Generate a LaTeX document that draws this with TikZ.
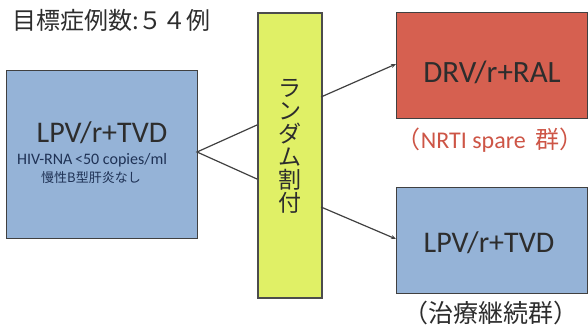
\documentclass[tikz,border=0pt]{standalone}
\usepackage{fontspec}
\setmainfont{Carlito}
\newfontfamily\jp{Noto Sans CJK JP}
\usetikzlibrary{arrows.meta}
\definecolor{boxblue}{RGB}{149,179,215}
\definecolor{boxred}{RGB}{214,96,80}
\definecolor{boxyellow}{RGB}{224,240,102}
\definecolor{txt}{RGB}{45,45,45}
\definecolor{navy}{RGB}{31,50,85}
\definecolor{lblred}{RGB}{205,85,70}
\begin{document}
\begin{tikzpicture}[x=1pt,y=-1pt,
  box/.style={draw=black!75, line width=1.3pt, anchor=north west, inner sep=0pt},
  conn/.style={draw=black!75, line width=1.2pt},
  arr/.style={conn,-{Stealth[length=5pt,width=4pt]}},
  big/.style={font=\fontsize{30}{34}\selectfont, text=txt, inner sep=0pt}]
\useasboundingbox (0,0) rectangle (588,329);
% title
\node[anchor=west, font=\jp\fontsize{24}{26}\selectfont, text=txt, inner sep=0pt] (title) at (12,20) {目標症例数:５４例};
% boxes
\node[box, fill=boxblue, minimum width=191pt, minimum height=168pt] (src) at (6,70) {};
\node[box, fill=boxyellow, line width=2pt, draw=black!70, minimum width=64pt, minimum height=285pt] (rand) at (257,12) {};
\node[box, fill=boxred, minimum width=191pt, minimum height=106pt] (red) at (396,12) {};
\node[box, fill=boxblue, minimum width=191pt, minimum height=106pt] (blue) at (396,187) {};
% texts
\node[big] (srct) at (102,133) {LPV/r+TVD};
\node[font=\fontsize{16}{18}\selectfont, text=navy, inner sep=0pt] (srcs1) at (92,160) {HIV-RNA\,<50 copies/ml};
\node[font=\jp\fontsize{13}{15}\selectfont, text=navy, inner sep=0pt] (srcs2) at (91,178) {慢性B型肝炎なし};
\node[font=\jp\fontsize{23}{23}\selectfont, text=txt, align=center, inner sep=0pt] (randt) at (290,146) {ラ\\ン\\ダ\\ム\\割\\付};
\node[font=\fontsize{31}{34}\selectfont, text=txt, inner sep=0pt] (redt) at (492,72) {DRV/r+RAL};
\node[big] (bluet) at (489,243) {LPV/r+TVD};
\node[font=\fontsize{24}{26}\selectfont, text=lblred, inner sep=0pt] (redl) at (490,140) {{\jp（}NRTI spare\, {\jp 群）}};
\node[font=\jp\fontsize{25}{27}\selectfont, text=txt, inner sep=0pt] (bluel) at (491,313) {（治療継続群）};
% connectors
\coordinate (apex) at (197,152);
\coordinate (ra) at (257,125);
\coordinate (rb) at (257,179);
\coordinate (rc) at (321,97);
\coordinate (rd) at (321,207);
\coordinate (ta) at (396,64);
\coordinate (tb) at (396,239);
\draw[conn] (ra) -- (apex) -- (rb);
\draw[arr] (rc) -- (ta);
\draw[arr] (rd) -- (tb);
\end{tikzpicture}
\end{document}
